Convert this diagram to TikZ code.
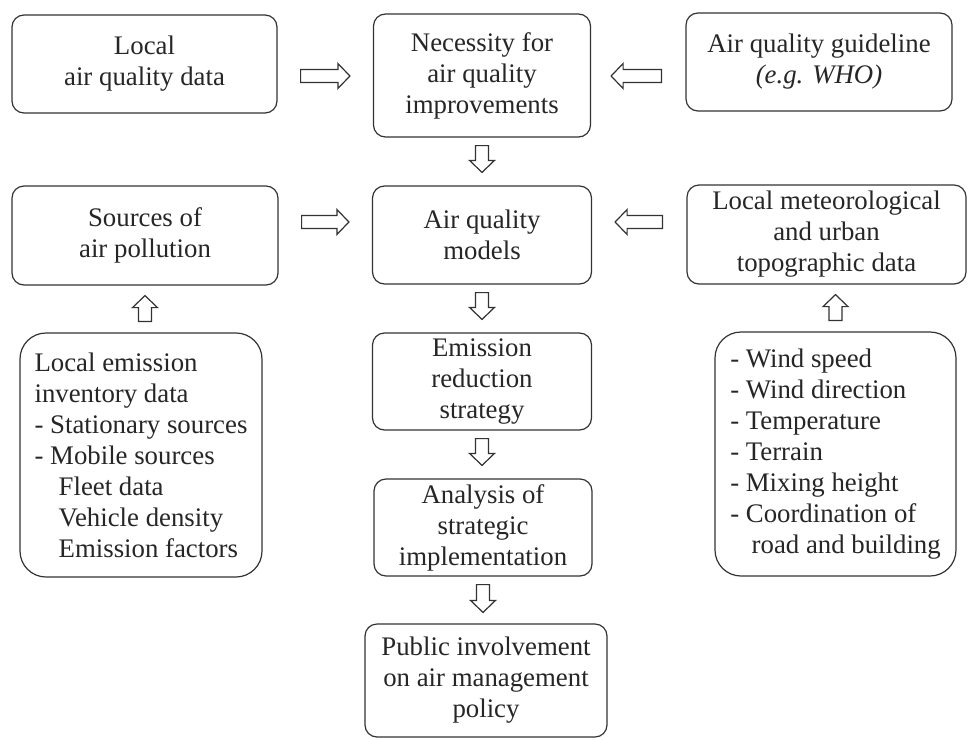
\documentclass[tikz,border=0pt]{standalone}
\usepackage{fontspec}
\setmainfont{Liberation Serif}
\usetikzlibrary{calc}

\tikzset{
    box/.style={draw=black!80,line width=1.2pt,rounded corners=12pt,align=center,inner sep=0pt},
    listbox/.style={box,rounded corners=26pt,align=left},
    % open block arrow; #1 = gap at start, #2 = gap at end
    hollow/.style 2 args={draw=black!80,line width=1.2pt,line join=miter,fill=white,
        to path={
            ($(\tikztostart)!#1!(\tikztotarget)$) coordinate (hs)
            ($(\tikztotarget)!#2!(\tikztostart)$) coordinate (ht)
            ($(ht)!12pt!(hs)$) coordinate (hb)
            ($(hs)!6.5pt!90:(ht)$) -- ($(hb)!6.5pt!90:(ht)$) -- ($(hb)!12.5pt!90:(ht)$) -- (ht)
            -- ($(hb)!12.5pt!-90:(ht)$) -- ($(hb)!6.5pt!-90:(ht)$) -- ($(hs)!6.5pt!-90:(ht)$) -- cycle}},
}

\begin{document}
\begin{tikzpicture}[x=1pt,y=-1pt,font=\fontsize{26.8}{31}\selectfont,text=black!85]
    \path[use as bounding box,fill=white] (0,0) rectangle (968,739);
    \coordinate (row1) at (0,76);
    \coordinate (row2) at (0,222);
    \begin{scope}[every node/.style={box}]
        \node[minimum width=265pt,minimum height=98pt]  (aqdata)  at (144.5,64)  {Local\\air quality data};
        \node[minimum width=217pt,minimum height=123pt] (need)    at (482,75.5)  {Necessity for\\air quality\\improvements};
        \node[minimum width=266pt,minimum height=98pt]  (guide)   at (819,62)    {Air quality guideline\\\textit{(e.g. WHO)}};
        \node[minimum width=266pt,minimum height=99pt]  (src)     at (145,235.5) {Sources of\\air pollution};
        \node[minimum width=219pt,minimum height=98pt]  (models)  at (482,235)   {Air quality\\models};
        \node[minimum width=279pt,minimum height=99pt]  (meteo)   at (826.5,234.5) {Local meteorological\\and urban\\topographic data};
        \node[minimum width=219pt,minimum height=97pt]  (strat)   at (482,381.5) {Emission\\reduction\\strategy};
        \node[minimum width=218pt,minimum height=97pt]  (impl)    at (483,527.5) {Analysis of\\strategic\\implementation};
        \node[minimum width=242pt,minimum height=113pt] (public)  at (486,680.5) {Public involvement\\on air management\\policy};
        \node[listbox,minimum width=242pt,minimum height=244pt] (emis) at (141,455)
            {Local emission\\inventory data\\- Stationary sources\\- Mobile sources\\
             \hspace*{0.9em}Fleet data\\\hspace*{0.9em}Vehicle density\\\hspace*{0.9em}Emission factors};
        \node[listbox,minimum width=241pt,minimum height=244pt] (weather) at (835.5,454)
            {- Wind speed\\- Wind direction\\- Temperature\\- Terrain\\- Mixing height\\
             - Coordination of\\\hspace*{0.8em}road and building};
    \end{scope}
    \begin{scope}
        \draw[hollow={23pt}{23pt}] (aqdata.east |- row1) to (need.west |- row1);
        \draw[hollow={24pt}{20pt}] (guide.west |- row1) to (need.east |- row1);
        \draw[hollow={23pt}{23pt}] (src.east |- row2) to (models.west |- row2);
        \draw[hollow={24pt}{23pt}] (meteo.west |- row2) to (models.east |- row2);
        \draw[hollow={8pt}{13pt}] (need.south) to (models.north);
        \draw[hollow={8pt}{13pt}] (models.south) to (strat.north);
        \draw[hollow={8pt}{13pt}] (strat.south) to (strat.south |- impl.north);
        \draw[hollow={8pt}{11pt}] (impl.south) to (impl.south |- public.north);
        \draw[hollow={11pt}{10pt}] (src.south |- emis.north) to (src.south);
        \draw[hollow={11pt}{10pt}] (weather.north) to (weather.north |- meteo.south);
    \end{scope}
\end{tikzpicture}
\end{document}
